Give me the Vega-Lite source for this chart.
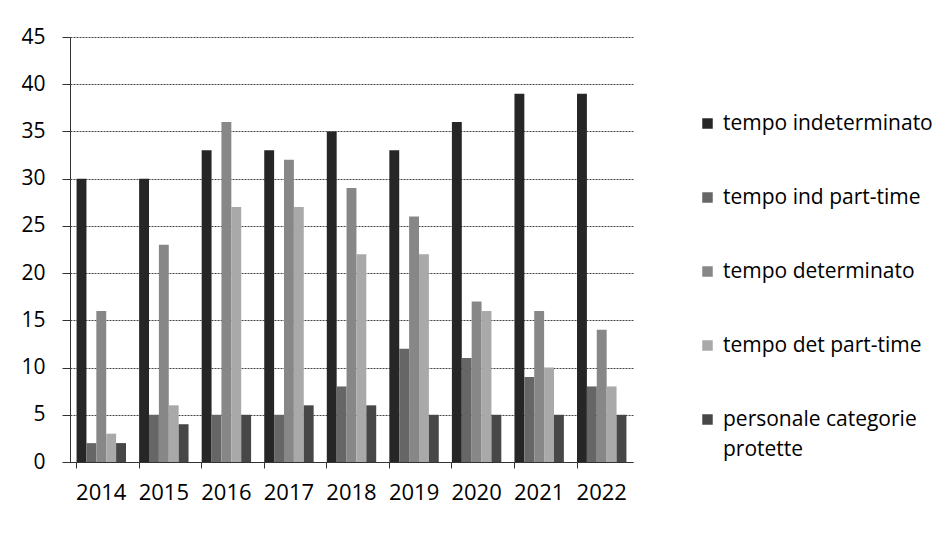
{
  "$schema": "https://vega.github.io/schema/vega-lite/v6.json",
  "width": 563,
  "height": 425,
  "autosize": {"type": "none"},
  "padding": {"left": 70, "top": 37, "right": 318, "bottom": 85},
  "background": "white",
  "data": {
    "values": [
      {"anno": "2014", "serie": "tempo indeterminato", "valore": 30},
      {"anno": "2014", "serie": "tempo ind part-time", "valore": 2},
      {"anno": "2014", "serie": "tempo determinato", "valore": 16},
      {"anno": "2014", "serie": "tempo det part-time", "valore": 3},
      {"anno": "2014", "serie": "personale categorie protette", "valore": 2},
      {"anno": "2015", "serie": "tempo indeterminato", "valore": 30},
      {"anno": "2015", "serie": "tempo ind part-time", "valore": 5},
      {"anno": "2015", "serie": "tempo determinato", "valore": 23},
      {"anno": "2015", "serie": "tempo det part-time", "valore": 6},
      {"anno": "2015", "serie": "personale categorie protette", "valore": 4},
      {"anno": "2016", "serie": "tempo indeterminato", "valore": 33},
      {"anno": "2016", "serie": "tempo ind part-time", "valore": 5},
      {"anno": "2016", "serie": "tempo determinato", "valore": 36},
      {"anno": "2016", "serie": "tempo det part-time", "valore": 27},
      {"anno": "2016", "serie": "personale categorie protette", "valore": 5},
      {"anno": "2017", "serie": "tempo indeterminato", "valore": 33},
      {"anno": "2017", "serie": "tempo ind part-time", "valore": 5},
      {"anno": "2017", "serie": "tempo determinato", "valore": 32},
      {"anno": "2017", "serie": "tempo det part-time", "valore": 27},
      {"anno": "2017", "serie": "personale categorie protette", "valore": 6},
      {"anno": "2018", "serie": "tempo indeterminato", "valore": 35},
      {"anno": "2018", "serie": "tempo ind part-time", "valore": 8},
      {"anno": "2018", "serie": "tempo determinato", "valore": 29},
      {"anno": "2018", "serie": "tempo det part-time", "valore": 22},
      {"anno": "2018", "serie": "personale categorie protette", "valore": 6},
      {"anno": "2019", "serie": "tempo indeterminato", "valore": 33},
      {"anno": "2019", "serie": "tempo ind part-time", "valore": 12},
      {"anno": "2019", "serie": "tempo determinato", "valore": 26},
      {"anno": "2019", "serie": "tempo det part-time", "valore": 22},
      {"anno": "2019", "serie": "personale categorie protette", "valore": 5},
      {"anno": "2020", "serie": "tempo indeterminato", "valore": 36},
      {"anno": "2020", "serie": "tempo ind part-time", "valore": 11},
      {"anno": "2020", "serie": "tempo determinato", "valore": 17},
      {"anno": "2020", "serie": "tempo det part-time", "valore": 16},
      {"anno": "2020", "serie": "personale categorie protette", "valore": 5},
      {"anno": "2021", "serie": "tempo indeterminato", "valore": 39},
      {"anno": "2021", "serie": "tempo ind part-time", "valore": 9},
      {"anno": "2021", "serie": "tempo determinato", "valore": 16},
      {"anno": "2021", "serie": "tempo det part-time", "valore": 10},
      {"anno": "2021", "serie": "personale categorie protette", "valore": 5},
      {"anno": "2022", "serie": "tempo indeterminato", "valore": 39},
      {"anno": "2022", "serie": "tempo ind part-time", "valore": 8},
      {"anno": "2022", "serie": "tempo determinato", "valore": 14},
      {"anno": "2022", "serie": "tempo det part-time", "valore": 8},
      {"anno": "2022", "serie": "personale categorie protette", "valore": 5}
    ]
  },
  "mark": {"type": "bar"},
  "encoding": {
    "x": {
      "field": "anno",
      "type": "nominal",
      "scale": {"paddingInner": 0.21, "paddingOuter": 0.105},
      "axis": {
        "title": null,
        "labelAngle": 0,
        "labelFont": "Open Sans",
        "labelFontSize": 22,
        "labelColor": "#000",
        "labelPadding": 14,
        "bandPosition": 0,
        "tickSize": 6,
        "tickColor": "#333",
        "domainColor": "#333",
        "grid": false
      }
    },
    "xOffset": {
      "field": "serie",
      "type": "nominal",
      "sort": ["tempo indeterminato", "tempo ind part-time", "tempo determinato", "tempo det part-time", "personale categorie protette"]
    },
    "y": {
      "field": "valore",
      "type": "quantitative",
      "scale": {"domain": [0, 45]},
      "axis": {
        "title": null,
        "values": [0, 5, 10, 15, 20, 25, 30, 35, 40, 45],
        "labelFont": "Open Sans",
        "labelFontSize": 21,
        "labelColor": "#000",
        "labelPadding": 17,
        "tickSize": 8,
        "tickColor": "#333",
        "domainColor": "#333",
        "grid": true,
        "gridColor": "#444",
        "gridWidth": 1.2,
        "gridDash": [2, 1]
      }
    },
    "color": {
      "field": "serie",
      "type": "nominal",
      "sort": ["tempo indeterminato", "tempo ind part-time", "tempo determinato", "tempo det part-time", "personale categorie protette"],
      "scale": {
        "domain": ["tempo indeterminato", "tempo ind part-time", "tempo determinato", "tempo det part-time", "personale categorie protette"],
        "range": ["#262626", "#666666", "#878787", "#a9a9a9", "#474747"]
      },
      "legend": {
        "title": null,
        "orient": "none",
        "legendX": 627,
        "legendY": 76,
        "symbolType": "square",
        "symbolSize": 110,
        "symbolStrokeWidth": 0,
        "labelFont": "Open Sans",
        "labelFontSize": 21,
        "labelColor": "#000",
        "labelLimit": 320,
        "rowPadding": 52,
        "labelOffset": 5,
        "labelExpr": "datum.label == 'personale categorie protette' ? ['personale categorie', 'protette'] : datum.label"
      }
    }
  },
  "config": {
    "view": {"stroke": null},
    "style": {"guide-label": {"lineHeight": 30}}
  }
}
